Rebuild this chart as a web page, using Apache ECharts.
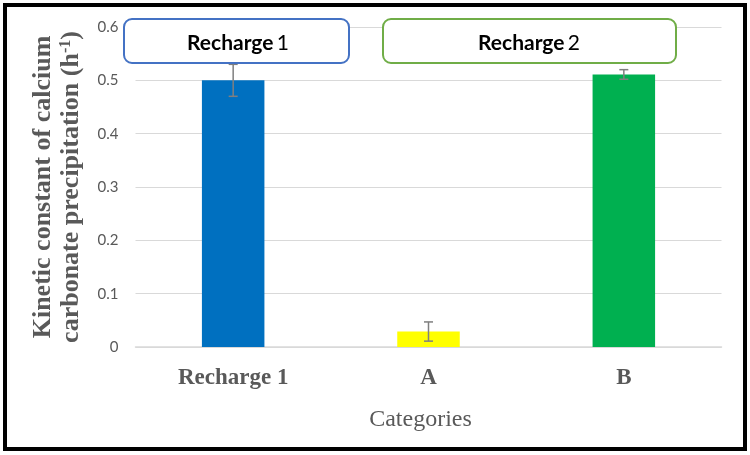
<!DOCTYPE html>
<html>
<head>
<meta charset="utf-8">
<script src="https://cdn.jsdelivr.net/npm/echarts@6/dist/echarts.min.js"></script>
<style>html,body{margin:0;padding:0;background:#fff}#c{width:750px;height:455px}</style>
</head>
<body>
<div id="c"></div>
<script>
var categories = ['Recharge 1', 'A', 'B'];
var values = [0.50, 0.029, 0.511];
var errors = [0.03, 0.018, 0.009];
var barColors = ['#0070C0', '#FFFF00', '#00B050'];
var yTicks = [0, 0.1, 0.2, 0.3, 0.4, 0.5, 0.6];

var chart = echarts.init(document.getElementById('c'));
var errData = values.map(function (v, i) { return [i, v - errors[i], v + errors[i]]; });
var serif = 'Liberation Serif';

chart.setOption({
  animation: false,
  backgroundColor: '#fff',
  grid: { left: 135.5, right: 28.5, top: 27, bottom: 108 },
  xAxis: {
    type: 'category',
    data: categories,
    axisTick: { show: false },
    axisLine: { lineStyle: { color: '#D9D9D9', width: 1.5 } },
    axisLabel: { color: '#595959', fontFamily: serif, fontWeight: 'bold', fontSize: 23, margin: 20 },
    name: 'Categories',
    nameLocation: 'middle',
    nameGap: 61,
    nameTextStyle: { color: '#595959', fontFamily: serif, fontSize: 24, padding: [0, 16, 0, 0] }
  },
  yAxis: {
    type: 'value',
    min: 0, max: 0.6, interval: 0.1,
    axisLine: { show: false },
    axisTick: { show: false },
    splitLine: { lineStyle: { color: '#D9D9D9', width: 1.2 } },
    axisLabel: { color: '#595959', fontFamily: 'Lato', fontSize: 15, margin: 17,
      formatter: function (v) { return v === 0 ? '0' : String(Math.round(v * 10) / 10); } },
    name: '{t|Kinetic constant of calcium}\n{t|carbonate precipitation (h}{sup|-1}{t|)}',
    nameLocation: 'middle',
    nameGap: 50,
    nameTextStyle: {
      color: '#595959', fontFamily: serif, fontWeight: 'bold', fontSize: 26, lineHeight: 28,
      rich: {
        t: { fontFamily: serif, fontWeight: 'bold', fontSize: 26, color: '#595959', lineHeight: 28 },
        sup: { fontFamily: serif, fontWeight: 'bold', fontSize: 16, color: '#595959', lineHeight: 28, verticalAlign: 'top', padding: [0, 0, 12, 0] }
      }
    }
  },
  series: [
    {
      type: 'bar',
      barWidth: '32%',
      data: values.map(function (v, i) { return { value: v, itemStyle: { color: barColors[i] } }; })
    },
    {
      type: 'custom',
      data: errData,
      z: 10,
      renderItem: function (params, api) {
        var x = api.value(0);
        var lo = api.coord([x, api.value(1)]);
        var hi = api.coord([x, api.value(2)]);
        var hw = 4.5;
        var st = { stroke: '#7F7F7F', lineWidth: 1.5 };
        return {
          type: 'group',
          children: [
            { type: 'line', shape: { x1: lo[0], y1: lo[1], x2: hi[0], y2: hi[1] }, style: st },
            { type: 'line', shape: { x1: lo[0] - hw, y1: lo[1], x2: lo[0] + hw, y2: lo[1] }, style: st },
            { type: 'line', shape: { x1: hi[0] - hw, y1: hi[1], x2: hi[0] + hw, y2: hi[1] }, style: st }
          ]
        };
      }
    }
  ],
  graphic: [
    { type: 'rect', shape: { x: 5, y: 5, width: 740, height: 444 }, style: { fill: 'none', stroke: '#000', lineWidth: 4 }, z: 100 },
    { type: 'rect', shape: { x: 124, y: 19, width: 225, height: 44, r: 8 }, style: { fill: '#fff', stroke: '#4472C4', lineWidth: 2 }, z: 50 },
    { type: 'text', x: 238, y: 43, z: 51, style: { text: '{b|Recharge} {n|1}', align: 'center', verticalAlign: 'middle', rich: { b: { fontFamily: 'Lato', fontWeight: 'bold', fontSize: 21, fill: '#000' }, n: { fontFamily: 'Lato', fontSize: 21, fill: '#000' } } } },
    { type: 'rect', shape: { x: 383, y: 19, width: 293, height: 44, r: 8 }, style: { fill: '#fff', stroke: '#70AD47', lineWidth: 2 }, z: 50 },
    { type: 'text', x: 529, y: 43, z: 51, style: { text: '{b|Recharge} {n|2}', align: 'center', verticalAlign: 'middle', rich: { b: { fontFamily: 'Lato', fontWeight: 'bold', fontSize: 21, fill: '#000' }, n: { fontFamily: 'Lato', fontSize: 21, fill: '#000' } } } }
  ]
});
</script>
</body>
</html>
